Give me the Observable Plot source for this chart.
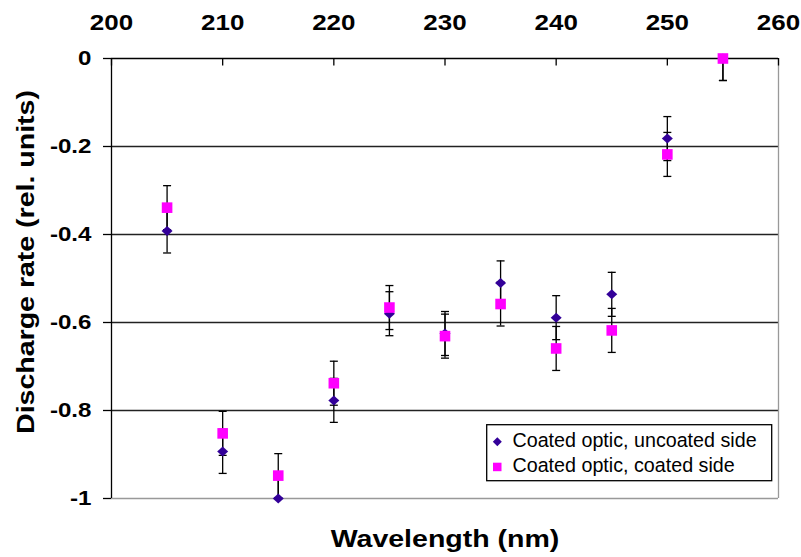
<!DOCTYPE html>
<html><head><meta charset="utf-8">
<script src="https://cdn.jsdelivr.net/npm/d3@7"></script>
<script src="https://cdn.jsdelivr.net/npm/@observablehq/plot@0.6"></script>
<style>body{margin:0;background:#fff}</style>
</head><body><div id="chart"></div>
<script>
const wavelengths = [205, 210, 215, 220, 225, 230, 235, 240, 245, 250, 255];
const uncoatedSide = [-0.392, -0.893, -1.0, -0.777, -0.58, -0.625, -0.51, -0.589, -0.536, -0.182, 0];
const coatedSide = [-0.339, -0.852, -0.948, -0.738, -0.566, -0.631, -0.558, -0.659, -0.618, -0.218, 0];
const errUncoated = [0.05, 0.05, 0.05, 0.05, 0.05, 0.05, 0.05, 0.05, 0.05, 0.05, 0.05];
const errCoated = [0.05, 0.05, 0.05, 0.05, 0.05, 0.05, 0.05, 0.05, 0.05, 0.05, 0.05];
const xTicks = [200, 210, 220, 230, 240, 250, 260];
const yTicks = [0, -0.2, -0.4, -0.6, -0.8, -1];
const seriesNames = ["Coated optic, uncoated side", "Coated optic, coated side"];
const seriesColors = ["#330099", "#ff00ff"];
const xLabel = "Wavelength (nm)";
const yLabel = "Discharge rate (rel. units)";

const rowsU = wavelengths.map((w, i) => ({w, v: uncoatedSide[i], e: errUncoated[i]}));
const rowsC = wavelengths.map((w, i) => ({w, v: coatedSide[i], e: errCoated[i]}));
const rows = rowsU.concat(rowsC);

const diamondSym = {draw(ctx) { ctx.moveTo(0, -5); ctx.lineTo(5.5, 0); ctx.lineTo(0, 5); ctx.lineTo(-5.5, 0); ctx.closePath(); }};
const squareSym = {draw(ctx) { ctx.rect(-5.3, -5.3, 10.6, 10.6); }};
const capSym = {draw(ctx) { ctx.moveTo(-4, 0); ctx.lineTo(4, 0); }};

const plot = Plot.plot({
  width: 801, height: 557,
  marginTop: 58, marginLeft: 111, marginRight: 23, marginBottom: 59,
  x: {domain: [200, 260]},
  y: {domain: [-1, 0]},
  style: {fontFamily: "'Liberation Sans', Arial, sans-serif", fontSize: "22px", fontWeight: "bold", background: "#fff", color: "#000"},
  marks: [
    Plot.ruleY(yTicks.filter(d => d > -1 && d < 0), {stroke: "#222", strokeWidth: 1.3}),
    Plot.ruleY([-1], {stroke: "#999", strokeWidth: 1.3}),
    Plot.ruleX([260], {stroke: "#999", strokeWidth: 1.3}),
    Plot.ruleY([0], {stroke: "#000", strokeWidth: 1.3}),
    Plot.ruleX([200], {stroke: "#000", strokeWidth: 1.3}),
    Plot.ruleX(xTicks, {x: d => d, y1: 0, y2: 0, insetBottom: -7.5, stroke: "#000", strokeWidth: 1.3}),
    Plot.axisX({anchor: "top", ticks: xTicks, tickSize: 0, tickPadding: 29, tickFormat: d => String(d), label: null, fontSize: 22}),
    Plot.axisY({anchor: "left", ticks: yTicks, tickSize: 8, tickPadding: 12, tickFormat: d => String(d), label: null, strokeWidth: 1.3, fontSize: 21}),
    Plot.ruleX(rows, {x: "w", y1: d => d.v - d.e, y2: d => d.v + d.e, stroke: "#000", strokeWidth: 1.3, clip: true}),
    Plot.dot(rows, {x: "w", y: d => d.v + d.e, symbol: capSym, stroke: "#000", fill: "none", strokeWidth: 1.3, clip: true}),
    Plot.dot(rows, {x: "w", y: d => d.v - d.e, symbol: capSym, stroke: "#000", fill: "none", strokeWidth: 1.3, clip: true}),
    Plot.dot(rowsU, {x: "w", y: "v", symbol: diamondSym, fill: seriesColors[0], stroke: "none"}),
    Plot.dot(rowsC, {x: "w", y: "v", symbol: squareSym, fill: seriesColors[1], stroke: "none"}),
    Plot.text([xLabel], {text: d => d, frameAnchor: "bottom", textAnchor: "middle", lineAnchor: "bottom", dy: 48.8, fontSize: 23}),
    Plot.text([yLabel], {text: d => d, frameAnchor: "left", textAnchor: "middle", rotate: -90, lineAnchor: "bottom", dx: -77.2, dy: -16.5, fontSize: 23})
  ]
});

document.getElementById("chart").append(plot);

plot.querySelectorAll("text").forEach(t => {
  const s = t.textContent;
  let f;
  if (s === xLabel || s === yLabel) f = 1.24;
  else if (xTicks.map(String).includes(s)) f = 1.18;
  else f = 1.15;
  const len = t.getComputedTextLength();
  t.setAttribute("textLength", (len * f).toFixed(1));
  t.setAttribute("lengthAdjust", "spacingAndGlyphs");
});

// legend
const svg = d3.select(plot);
const lg = svg.append("g").attr("font-family", "'Liberation Sans', Arial, sans-serif").attr("font-weight", "normal").attr("font-size", "19.7px").attr("text-anchor", "start");
lg.append("rect").attr("x", 486.7).attr("y", 424.7).attr("width", 285).attr("height", 56)
  .attr("fill", "#fff").attr("stroke", "#000").attr("stroke-width", 1.3);
lg.append("path").attr("d", "M0,-4.5L4.5,0L0,4.5L-4.5,0Z")
  .attr("transform", "translate(497.3,441.7)").attr("fill", seriesColors[0]);
lg.append("rect").attr("x", 493).attr("y", 462.7).attr("width", 8.5).attr("height", 8.5).attr("fill", seriesColors[1]);
lg.append("text").attr("x", 512.5).attr("y", 446.7).attr("fill", "#000").text(seriesNames[0]);
lg.append("text").attr("x", 512.5).attr("y", 472).attr("fill", "#000").text(seriesNames[1]);
</script>
</body></html>
